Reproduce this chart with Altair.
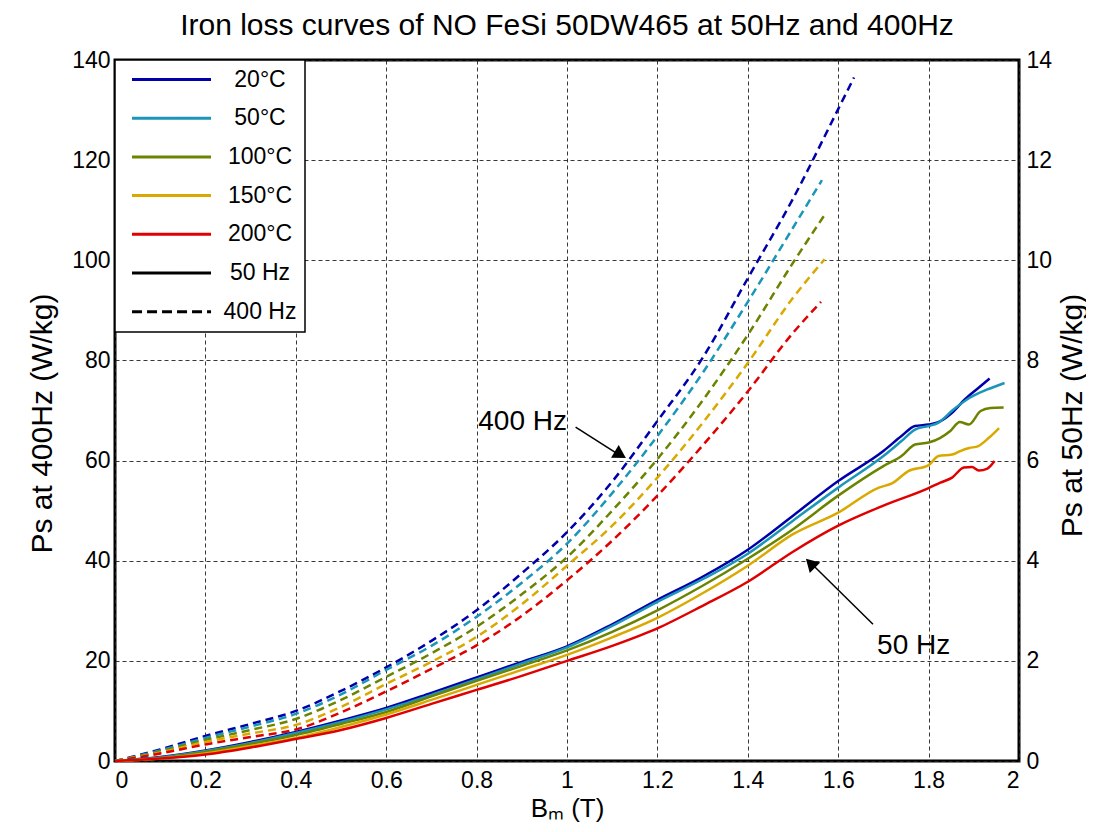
import altair as alt
import pandas as pd

TEMPS = ["20°C", "50°C", "100°C", "150°C", "200°C"]
COLORS = ["#0000AA", "#1A96B8", "#6B8400", "#D9A900", "#E00000"]
LEGEND_KEYS = TEMPS + ["50 Hz", "400 Hz"]

# ---- 400 Hz iron loss (W/kg, left axis) ----
B400_20 = [0, 0.1, 0.2, 0.3, 0.4, 0.5, 0.6, 0.7, 0.8, 0.9, 1.0, 1.1, 1.2, 1.3, 1.4, 1.5, 1.6, 1.635]
P400_20 = [0, 2.3, 5.0, 7.4, 10.0, 14.0, 18.7, 24.0, 30.1, 37.5, 45.7, 55.8, 67.9, 80.5, 96.4, 112.3, 130.2, 136.5]
B400_50 = [0, 0.1, 0.2, 0.3, 0.4, 0.5, 0.6, 0.7, 0.8, 0.9, 1.0, 1.1, 1.2, 1.3, 1.4, 1.5, 1.564]
P400_50 = [0, 2.1, 4.6, 6.9, 9.4, 13.3, 18.2, 23.0, 28.8, 35.6, 43.4, 53.5, 64.9, 77.5, 91.7, 106.5, 116.0]
B400_100 = [0, 0.1, 0.2, 0.3, 0.4, 0.5, 0.6, 0.7, 0.8, 0.9, 1.0, 1.1, 1.2, 1.3, 1.4, 1.5, 1.568]
P400_100 = [0, 1.9, 4.2, 6.2, 8.4, 12.2, 16.8, 21.5, 26.8, 33.3, 40.7, 50.0, 60.3, 72.0, 85.1, 99.5, 108.8]
B400_150 = [0, 0.1, 0.2, 0.3, 0.4, 0.5, 0.6, 0.7, 0.8, 0.9, 1.0, 1.1, 1.2, 1.3, 1.4, 1.5, 1.570]
P400_150 = [0, 1.7, 3.8, 5.5, 7.2, 10.8, 15.4, 19.8, 24.8, 31.3, 39.0, 47.0, 56.6, 67.5, 79.5, 92.5, 100.2]
B400_200 = [0, 0.1, 0.2, 0.3, 0.4, 0.5, 0.6, 0.7, 0.8, 0.9, 1.0, 1.1, 1.2, 1.3, 1.4, 1.5, 1.562]
P400_200 = [0, 1.5, 3.3, 4.8, 6.3, 9.7, 13.9, 18.4, 23.1, 29.0, 36.1, 44.0, 53.0, 63.0, 73.8, 85.5, 91.7]

# ---- 50 Hz iron loss (W/kg, right axis) ----
B50_20 = [0, 0.1, 0.2, 0.3, 0.4, 0.5, 0.6, 0.7, 0.8, 0.9, 1.0, 1.1, 1.2, 1.3, 1.4, 1.5, 1.6, 1.7,
          1.74, 1.77, 1.8, 1.82, 1.85, 1.88, 1.91, 1.935]
P50_20 = [0, 0.08, 0.21, 0.38, 0.58, 0.81, 1.06, 1.36, 1.67, 1.98, 2.29, 2.73, 3.22, 3.68, 4.22, 4.90, 5.59, 6.19,
          6.49, 6.69, 6.72, 6.76, 6.94, 7.22, 7.45, 7.64]
B50_50 = [0, 0.1, 0.2, 0.3, 0.4, 0.5, 0.6, 0.7, 0.8, 0.9, 1.0, 1.1, 1.2, 1.3, 1.4, 1.5, 1.6, 1.7,
          1.74, 1.77, 1.8, 1.82, 1.855, 1.89, 1.93, 1.968]
P50_50 = [0, 0.07, 0.20, 0.36, 0.56, 0.78, 1.03, 1.32, 1.63, 1.95, 2.27, 2.70, 3.18, 3.63, 4.14, 4.80, 5.46, 6.09,
          6.39, 6.62, 6.69, 6.75, 7.02, 7.25, 7.42, 7.55]
B50_100 = [0, 0.1, 0.2, 0.3, 0.4, 0.5, 0.6, 0.7, 0.8, 0.9, 1.0, 1.1, 1.2, 1.3, 1.4, 1.5, 1.6, 1.7,
           1.74, 1.77, 1.8, 1.825, 1.848, 1.869, 1.889, 1.915, 1.937, 1.966]
P50_100 = [0, 0.06, 0.18, 0.34, 0.52, 0.74, 0.98, 1.29, 1.60, 1.90, 2.21, 2.58, 3.01, 3.50, 4.04, 4.63, 5.30, 5.89,
           6.09, 6.32, 6.36, 6.45, 6.59, 6.77, 6.72, 6.99, 7.05, 7.06]
B50_150 = [0, 0.1, 0.2, 0.3, 0.4, 0.5, 0.6, 0.7, 0.8, 0.9, 1.0, 1.1, 1.2, 1.3, 1.4, 1.5, 1.6, 1.69,
           1.72, 1.755, 1.8, 1.822, 1.852, 1.87, 1.89, 1.91, 1.934, 1.956]
P50_150 = [0, 0.05, 0.15, 0.30, 0.46, 0.68, 0.93, 1.22, 1.52, 1.82, 2.12, 2.47, 2.86, 3.35, 3.90, 4.53, 4.96, 5.46,
           5.55, 5.79, 5.91, 6.09, 6.12, 6.19, 6.25, 6.29, 6.46, 6.65]
B50_200 = [0, 0.1, 0.2, 0.3, 0.4, 0.5, 0.6, 0.7, 0.8, 0.9, 1.0, 1.1, 1.2, 1.3, 1.4, 1.5, 1.6, 1.7, 1.8,
           1.826, 1.852, 1.878, 1.896, 1.911, 1.93, 1.946]
P50_200 = [0, 0.05, 0.13, 0.27, 0.44, 0.62, 0.86, 1.14, 1.42, 1.70, 2.00, 2.30, 2.65, 3.10, 3.58, 4.18, 4.70, 5.10, 5.45,
           5.56, 5.66, 5.86, 5.87, 5.80, 5.84, 5.99]

# ---- annotations (data coordinates) ----
ANN400_TEXT = ["400 Hz"]
ANN400_B, ANN400_P = [1.0], [67.8]
ARR400_B, ARR400_P, ARR400_B2, ARR400_P2 = [1.019], [66.7], [1.118], [61.0]
HEAD400_B, HEAD400_P = [1.114], [61.4]

ANN50_TEXT = ["50 Hz"]
ANN50_B, ANN50_P = [1.686], [2.29]
ARR50_B, ARR50_P, ARR50_B2, ARR50_P2 = [1.677], [2.73], [1.54], [3.95]
HEAD50_B, HEAD50_P = [1.542], [3.92]

X_TICKS = [0, 0.2, 0.4, 0.6, 0.8, 1.0, 1.2, 1.4, 1.6, 1.8, 2.0]
Y_TICKS_L = [0, 20, 40, 60, 80, 100, 120, 140]
Y_TICKS_R = [0, 2, 4, 6, 8, 10, 12, 14]

FONT = "Liberation Sans"


def build(series):
    rows = []
    for t, bs, ps in series:
        for b, p in zip(bs, ps):
            rows.append({"T": t, "B": b, "P": p})
    return pd.DataFrame(rows)


df400 = build(zip(TEMPS, [B400_20, B400_50, B400_100, B400_150, B400_200],
                  [P400_20, P400_50, P400_100, P400_150, P400_200]))
df50 = build(zip(TEMPS, [B50_20, B50_50, B50_100, B50_150, B50_200],
                 [P50_20, P50_50, P50_100, P50_150, P50_200]))

color_scale = alt.Scale(domain=TEMPS, range=COLORS)

lines400 = alt.Chart(df400).mark_line(strokeWidth=2.5, strokeDash=[8, 5], interpolate="monotone").encode(
    x=alt.X("B:Q", scale=alt.Scale(domain=[0, 2], nice=False),
            axis=alt.Axis(values=X_TICKS, format=".1~f", title="Bₘ (T)", grid=True,
                          labelPadding=8, titlePadding=3, titleFontSize=26)),
    y=alt.Y("P:Q", scale=alt.Scale(domain=[0, 140], nice=False),
            axis=alt.Axis(values=Y_TICKS_L, title="Ps at 400Hz (W/kg)", grid=True,
                          labelPadding=5, titleAngle=270, titleX=-73, titleY=363,
                          titleBaseline="middle", titleAlign="center")),
    color=alt.Color("T:N", scale=color_scale, legend=None),
    detail="T:N",
)

legend_df = pd.DataFrame({"key": LEGEND_KEYS, "B": [0.0] * 7, "P": [0.0] * 7})
legend_layer = alt.Chart(legend_df).mark_line(strokeWidth=3).encode(
    x="B:Q",
    y="P:Q",
    stroke=alt.Stroke("key:N", scale=alt.Scale(domain=LEGEND_KEYS, range=COLORS + ["black", "black"]),
                      legend=alt.Legend(title=None)),
    strokeDash=alt.StrokeDash("key:N",
                              scale=alt.Scale(domain=LEGEND_KEYS, range=[[1, 0]] * 6 + [[10, 5]]),
                              legend=alt.Legend(title=None)),
)

ann400 = pd.DataFrame({"text": ANN400_TEXT, "B": ANN400_B, "P": ANN400_P})
arr400 = pd.DataFrame({"B": ARR400_B, "P": ARR400_P, "B2": ARR400_B2, "P2": ARR400_P2})
head400 = pd.DataFrame({"B": HEAD400_B, "P": HEAD400_P})

label400 = alt.Chart(ann400).mark_text(align="right", baseline="middle", fontSize=28, font=FONT,
                                       color="black").encode(x="B:Q", y="P:Q", text="text:N")
arrow400 = alt.Chart(arr400).mark_rule(strokeWidth=1.5, color="black").encode(
    x="B:Q", y="P:Q", x2="B2:Q", y2="P2:Q")
tip400 = alt.Chart(head400).mark_point(shape="triangle", filled=True, size=220, angle=121,
                                       color="black", opacity=1).encode(x="B:Q", y="P:Q")

lines50 = alt.Chart(df50).mark_line(strokeWidth=2.5, interpolate="monotone").encode(
    x="B:Q",
    y=alt.Y("P:Q", scale=alt.Scale(domain=[0, 14], nice=False),
            axis=alt.Axis(values=Y_TICKS_R, orient="right", title="Ps at 50Hz (W/kg)", grid=False,
                          labelPadding=7, titleAngle=270, titleX=53, titleY=355,
                          titleBaseline="middle", titleAlign="center")),
    color=alt.Color("T:N", scale=color_scale, legend=None),
    detail="T:N",
)

ann50 = pd.DataFrame({"text": ANN50_TEXT, "B": ANN50_B, "P": ANN50_P})
arr50 = pd.DataFrame({"B": ARR50_B, "P": ARR50_P, "B2": ARR50_B2, "P2": ARR50_P2})
head50 = pd.DataFrame({"B": HEAD50_B, "P": HEAD50_P})

label50 = alt.Chart(ann50).mark_text(align="left", baseline="middle", fontSize=28, font=FONT,
                                     color="black").encode(x="B:Q", y="P:Q", text="text:N")
arrow50 = alt.Chart(arr50).mark_rule(strokeWidth=1.5, color="black").encode(
    x="B:Q", y="P:Q", x2="B2:Q", y2="P2:Q")
tip50 = alt.Chart(head50).mark_point(shape="triangle", filled=True, size=220, angle=315,
                                     color="black", opacity=1).encode(x="B:Q", y="P:Q")

left = alt.layer(lines400, legend_layer, arrow400, tip400, label400)
right = alt.layer(lines50, arrow50, tip50, label50)

chart = alt.layer(left, right).resolve_scale(y="independent").properties(
    width=904,
    height=701,
    autosize=alt.AutoSizeParams(type="none"),
    padding={"left": 107, "top": 52, "right": 67, "bottom": 61},
    title=alt.TitleParams("Iron loss curves of NO FeSi 50DW465 at 50Hz and 400Hz",
                          fontSize=30, font=FONT, fontWeight="normal", color="black",
                          anchor="middle", frame="group", offset=8),
).configure_view(
    stroke="black", strokeWidth=3
).configure_axis(
    labelFont=FONT, labelFontSize=23, labelColor="black",
    titleFont=FONT, titleFontSize=30, titleFontWeight="normal", titleColor="black",
    ticks=False, domain=False,
    gridColor="#222222", gridDash=[4, 3], gridWidth=1, gridOpacity=0.9,
).configure_legend(
    orient="top-left", offset=0, padding=8,
    strokeColor="black", strokeWidth=1.5, fillColor="white", cornerRadius=0,
    symbolType="M-0.25,0H7.75", symbolSize=390, symbolStrokeWidth=3,
    labelFont=FONT, labelFontSize=23, labelColor="black", labelOffset=114, labelAlign="center",
    rowPadding=14.7,
)

chart.save("out.html", embed_options={"renderer": "svg", "actions": False})
